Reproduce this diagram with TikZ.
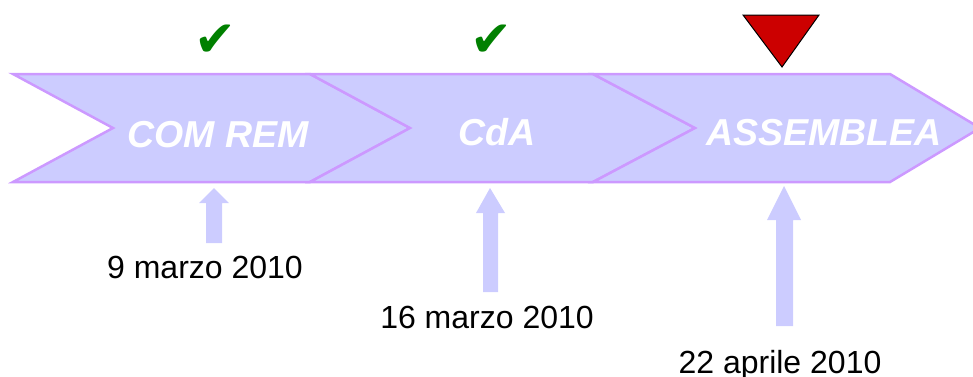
\documentclass[tikz,border=0pt]{standalone}
\usepackage{fontspec}
\setmainfont{Liberation Sans}
\newfontfamily\symfont{DejaVu Sans}
\definecolor{band}{HTML}{CCCCFF}
\definecolor{bandline}{HTML}{CC99FF}
\definecolor{okgreen}{HTML}{008000}
\definecolor{flagred}{HTML}{CC0000}
\tikzset{
  phase/.style={fill=band, draw=bandline, line width=2.5pt, line join=miter},
  phasename/.style={anchor=base, text=white, inner sep=0pt, font=\fontsize{37.5}{40}\selectfont\bfseries\itshape},
  datename/.style={anchor=base, text=black, inner sep=0pt, font=\fontsize{32}{34}\selectfont},
  upmark/.style={fill=band},
  okmark/.style={text=okgreen, inner sep=0pt, font=\fontsize{50}{52}\selectfont\symfont},
  flag/.style={fill=flagred, draw=black, line width=1pt, line join=miter}
}
\begin{document}
\begin{tikzpicture}[x=1pt,y=-1pt]
\useasboundingbox (0,0) rectangle (973,376);
% the three phases
\draw[phase] (13,74) -- (113,128) -- (13,182) -- (310,182) -- (410,128) -- (310,74) -- cycle;
\draw[phase] (310,74) -- (410,128) -- (310,182) -- (593,182) -- (695,128) -- (593,74) -- cycle;
\draw[phase] (593,74) -- (695,128) -- (593,182) -- (890,182) -- (980,128) -- (890,74) -- cycle;
\node[phasename] (comrem) at (218,147) {COM REM};
\node[phasename] (cda) at (497,145) {CdA};
\node[phasename] (assemblea) at (824,145) {ASSEMBLEA};
% done / current
\node[okmark] (ok1) at (215,41) {✔};
\node[okmark] (ok2) at (491,41) {✔};
\draw[flag] (743,15) -- (819,15) -- (782,67) -- cycle;
% dates
\fill[upmark] (206,243) -- (206,203) -- (199,203) -- (214,188) -- (229,203) -- (222,203) -- (222,243) -- cycle;
\fill[upmark] (483,292) -- (483,213) -- (476,213) -- (490,188) -- (505,213) -- (498,213) -- (498,292) -- cycle;
\fill[upmark] (776,326) -- (776,220) -- (767,220) -- (784,186) -- (801,220) -- (793,220) -- (793,326) -- cycle;
\node[datename] (d1) at (205,278) {9 marzo 2010};
\node[datename] (d2) at (487,328) {16 marzo 2010};
\node[datename] (d3) at (780,373) {22 aprile 2010};
\end{tikzpicture}
\end{document}
